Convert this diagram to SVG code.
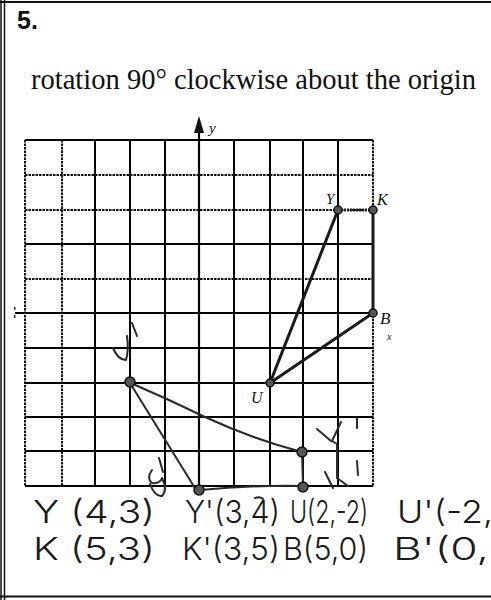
<svg xmlns="http://www.w3.org/2000/svg" width="491" height="600" viewBox="0 0 491 600">
<style>
.g{stroke:#000;stroke-width:2;fill:none}
.gd{stroke:#111;stroke-width:2;stroke-dasharray:2.5 1;fill:none}
.lab{font-family:"Liberation Serif",serif;font-style:italic;fill:#111}
.edge{stroke:#1a1a1a;stroke-width:3;fill:none;stroke-linecap:round}
.pen{stroke:#2a2a2a;stroke-width:2;fill:none;stroke-linecap:round;stroke-linejoin:round}
.hw{font-family:Inter,Lato,"Open Sans",sans-serif;font-weight:300;fill:#1a1a1a}
.pt{fill:#555;stroke:#111;stroke-width:1.5}
</style>
<rect width="491" height="600" fill="#fff"/>
<g id="frame" stroke="#111" fill="none">
<line x1="0" y1="2" x2="491" y2="2" stroke-width="2"/>
<line x1="1" y1="0" x2="1" y2="600" stroke-width="1.5"/>
<line x1="4.5" y1="0" x2="4.5" y2="600" stroke-width="1.5"/>
<line x1="0" y1="596.5" x2="491" y2="596.5" stroke-width="2"/>
</g>
<g id="title">
<text x="17" y="29" font-family="Liberation Sans,sans-serif" font-size="25" font-weight="bold" fill="#111">5.</text>
<text x="31" y="89" font-family="Liberation Serif,serif" font-size="29" fill="#111" textLength="445" lengthAdjust="spacingAndGlyphs">rotation 90° clockwise about the origin</text>
</g>
<g id="grid">
<line class="gd" x1="25" y1="140" x2="25" y2="486"/>
<line class="gd" x1="62" y1="140" x2="62" y2="486"/>
<line class="g" x1="95" y1="140" x2="95" y2="486"/>
<line class="g" x1="130" y1="140" x2="130" y2="486"/>
<line class="g" x1="165" y1="140" x2="165" y2="486"/>
<line class="g" x1="234" y1="140" x2="234" y2="486"/>
<line class="g" x1="270" y1="140" x2="270" y2="486"/>
<line class="g" x1="303" y1="140" x2="303" y2="486"/>
<line class="g" x1="338" y1="140" x2="338" y2="486"/>
<line class="gd" x1="373" y1="140" x2="373" y2="486"/>
<line class="g" x1="25" y1="140" x2="373" y2="140"/>
<line class="gd" x1="25" y1="175" x2="373" y2="175"/>
<line class="gd" x1="25" y1="210" x2="373" y2="210"/>
<line class="g" x1="25" y1="244" x2="373" y2="244"/>
<line class="gd" x1="25" y1="279" x2="373" y2="279"/>
<line class="g" x1="25" y1="348" x2="373" y2="348"/>
<line class="g" x1="25" y1="383" x2="373" y2="383"/>
<line class="g" x1="25" y1="417" x2="373" y2="417"/>
<line class="g" x1="25" y1="451" x2="373" y2="451"/>
<line class="g" x1="25" y1="486" x2="373" y2="486"/>
</g>
<g id="axes">
<line x1="199" y1="120" x2="199" y2="486" stroke="#000" stroke-width="2.2"/>
<polygon points="199,116 194,133 204,133" fill="#111"/>
<text class="lab" x="209" y="133" font-size="15">y</text>
<line x1="15" y1="313" x2="373" y2="313" stroke="#000" stroke-width="2.2"/>
<rect x="14" y="307" width="1.5" height="3" fill="#333"/>
<rect x="14" y="315" width="1.5" height="3" fill="#333"/>
</g>
<g id="connectors">
<line x1="338" y1="210" x2="373" y2="210" stroke="#222" stroke-width="3" stroke-dasharray="2 1"/>
<line class="edge" x1="373" y1="210" x2="373" y2="313" stroke-width="3.5"/>
<line class="edge" x1="373" y1="313" x2="270" y2="383"/>
<line class="edge" x1="270" y1="383" x2="338" y2="210"/>
<path class="pen" d="M130,383 L198,493"/>
<path class="pen" d="M133,384 Q170,400 205,417 Q255,440 302,452" stroke-width="2.4" stroke="#444"/>
<path class="pen" d="M302,452 L303,487"/>
<path class="pen" d="M200,490 Q250,485 303,486" stroke="#444"/>
</g>
<g id="node-Y"><circle class="pt" cx="338" cy="210" r="4"/><text class="lab" x="326" y="204" font-size="15">Y</text></g>
<g id="node-K"><circle class="pt" cx="373" cy="210" r="4"/><text class="lab" x="377" y="205" font-size="16">K</text></g>
<g id="node-B"><circle class="pt" cx="373" cy="313" r="4"/><text class="lab" x="380" y="324" font-size="17">B</text><text class="lab" x="387" y="340" font-size="10">x</text></g>
<g id="node-U"><circle class="pt" cx="270" cy="383" r="4"/><text class="lab" x="251" y="403" font-size="16">U</text></g>
<g id="node-U1"><circle class="pt" cx="130" cy="382" r="5"/>
<path class="pen" d="M113,348 Q118,360 126,360 Q129,350 127,336"/><path class="pen" d="M132,323 L137,336" stroke-width="2.4"/></g>
<g id="node-B1"><circle class="pt" cx="199" cy="490" r="5"/>
<path class="pen" d="M159,458 L163,472"/><path class="pen" d="M152,470 Q146,478 152,483 Q160,484 162,478 Q168,490 162,496 Q155,497 150,484"/></g>
<g id="node-Y1"><circle class="pt" cx="302" cy="452" r="5"/>
<path class="pen" d="M317,429 L331,441 M341,422 L332,441 L337,444 L337,477"/><path class="pen" d="M357,418 L357,428" stroke-width="2.4"/></g>
<g id="node-K1"><circle class="pt" cx="303" cy="487" r="5"/>
<path class="pen" d="M325,472 L333,488 M337,478 L348,486"/><path class="pen" d="M357,461 L358,475" stroke-width="2.4"/></g>
<g id="coords">
<text class="hw" x="33" y="523" font-size="31" textLength="122" lengthAdjust="spacingAndGlyphs">Y (4,3)</text>
<text class="hw" x="185" y="523" font-size="31" textLength="95" lengthAdjust="spacingAndGlyphs">Y'(3,4)</text>
<path class="pen" d="M255,498 Q260,496 263,499" stroke-width="1.5"/>
<text class="hw" x="290" y="523" font-size="31" textLength="78" lengthAdjust="spacingAndGlyphs">U(2,-2)</text>
<text class="hw" x="397" y="523" font-size="31" textLength="96" lengthAdjust="spacingAndGlyphs">U'(-2,</text>
<text class="hw" x="33" y="560" font-size="31" textLength="122" lengthAdjust="spacingAndGlyphs">K (5,3)</text>
<text class="hw" x="182" y="560" font-size="31" textLength="98" lengthAdjust="spacingAndGlyphs">K'(3,5)</text>
<text class="hw" x="283" y="560" font-size="31" textLength="85" lengthAdjust="spacingAndGlyphs">B(5,0)</text>
<text class="hw" x="393" y="560" font-size="31" textLength="96" lengthAdjust="spacingAndGlyphs">B'(0,</text>
</g>
</svg>
